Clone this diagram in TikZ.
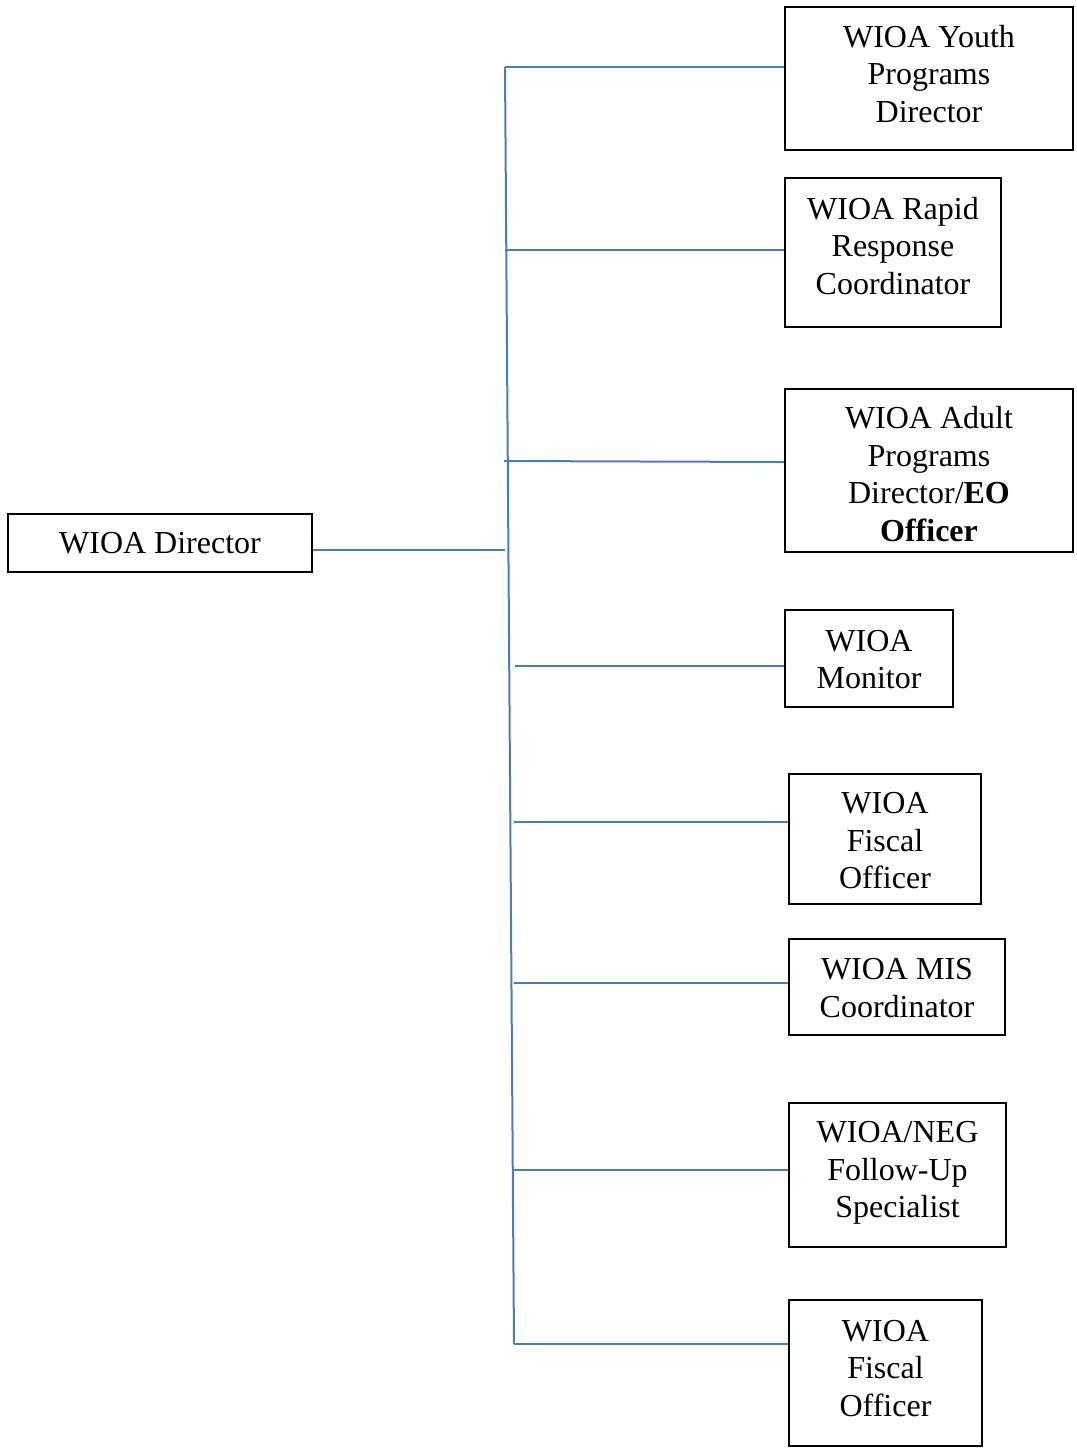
\documentclass[tikz,border=0pt]{standalone}
\usepackage{fontspec}
\setmainfont{Liberation Serif}
\usepackage{tikz}
\usetikzlibrary{positioning,calc}
\definecolor{linkBlue}{RGB}{74,126,187}
% struts that move the text inside a fixed box
\newcommand{\liftText}[1]{\rule[-#1]{0pt}{#1}}
\newcommand{\dropText}[1]{\rule{0pt}{#1}}
\tikzset{
  roleBox/.style={
    rectangle,
    draw=black,
    line width=0.9pt,
    fill=white,
    inner sep=2pt,
    align=center,
    font=\fontsize{16pt}{18.75pt}\selectfont
  },
  linkLine/.style={
    draw=linkBlue,
    line width=1pt
  }
}

\begin{document}
\begin{tikzpicture}[x=0.5pt,y=-0.5pt]
        \useasboundingbox (0,0) rectangle (1077,1448);

        \node[roleBox, minimum width=152pt, minimum height=29pt] (wioaDir) at (160,543) {WIOA Director};
        \node[roleBox, minimum width=144pt, minimum height=71.5pt] (youthDir) at (929,78.5) {WIOA Youth\\Programs\\Director\liftText{5pt}};
        \node[roleBox, minimum width=108pt, minimum height=74.5pt] (rapidCoord) at (893,252.5) {WIOA Rapid\\Response\\Coordinator\liftText{7pt}};
        \node[roleBox, minimum width=144pt, minimum height=81.5pt] (adultDir) at (929,470.5) {\dropText{14.8pt}WIOA Adult\\Programs\\Director/\textbf{EO}\\\textbf{Officer}};
        \node[roleBox, minimum width=84pt, minimum height=48.5pt] (monitor) at (869,658.5) {\dropText{11.6pt}WIOA\\Monitor};
        \node[roleBox, minimum width=96pt, minimum height=65pt] (fiscalOff) at (885,839) {\dropText{12.6pt}WIOA\\Fiscal\\Officer};
        \node[roleBox, minimum width=108pt, minimum height=48pt] (misCoord) at (897,987) {\dropText{11.6pt}WIOA MIS\\Coordinator};
        \node[roleBox, minimum width=108.5pt, minimum height=72pt] (negSpec) at (897.5,1175) {WIOA/NEG\\Follow-Up\\Specialist\liftText{5.4pt}};
        \node[roleBox, minimum width=96.5pt, minimum height=73pt] (fiscalOffB) at (885.5,1373) {WIOA\\Fiscal\\Officer\liftText{5pt}};

        % joints on the trunk
        \coordinate (dirJoin) at (505,550);
        \coordinate (youthJoin) at (505,67);
        \coordinate (rapidJoin) at (505,250);
        \coordinate (adultJoin) at (504,461);
        \coordinate (monitorJoin) at (515,666);
        \coordinate (fiscalJoin) at (514,822);
        \coordinate (misJoin) at (514,983);
        \coordinate (negJoin) at (514,1170);
        \coordinate (fiscalJoinB) at (514,1344);

        \draw[linkLine] (youthJoin) -- (fiscalJoinB);
        \draw[linkLine] (dirJoin -| wioaDir.east) -- (dirJoin);
        \draw[linkLine] (youthJoin) -- (youthJoin -| youthDir.west);
        \draw[linkLine] (rapidJoin) -- (rapidJoin -| rapidCoord.west);
        \draw[linkLine] (adultJoin) -- ([yshift=4.25pt]adultDir.west);
        \draw[linkLine] (monitorJoin) -- (monitorJoin -| monitor.west);
        \draw[linkLine] (fiscalJoin) -- (fiscalJoin -| fiscalOff.west);
        \draw[linkLine] (misJoin) -- (misJoin -| misCoord.west);
        \draw[linkLine] (negJoin) -- (negJoin -| negSpec.west);
        \draw[linkLine] (fiscalJoinB) -- (fiscalJoinB -| fiscalOffB.west);
    \end{tikzpicture}
\end{document}
